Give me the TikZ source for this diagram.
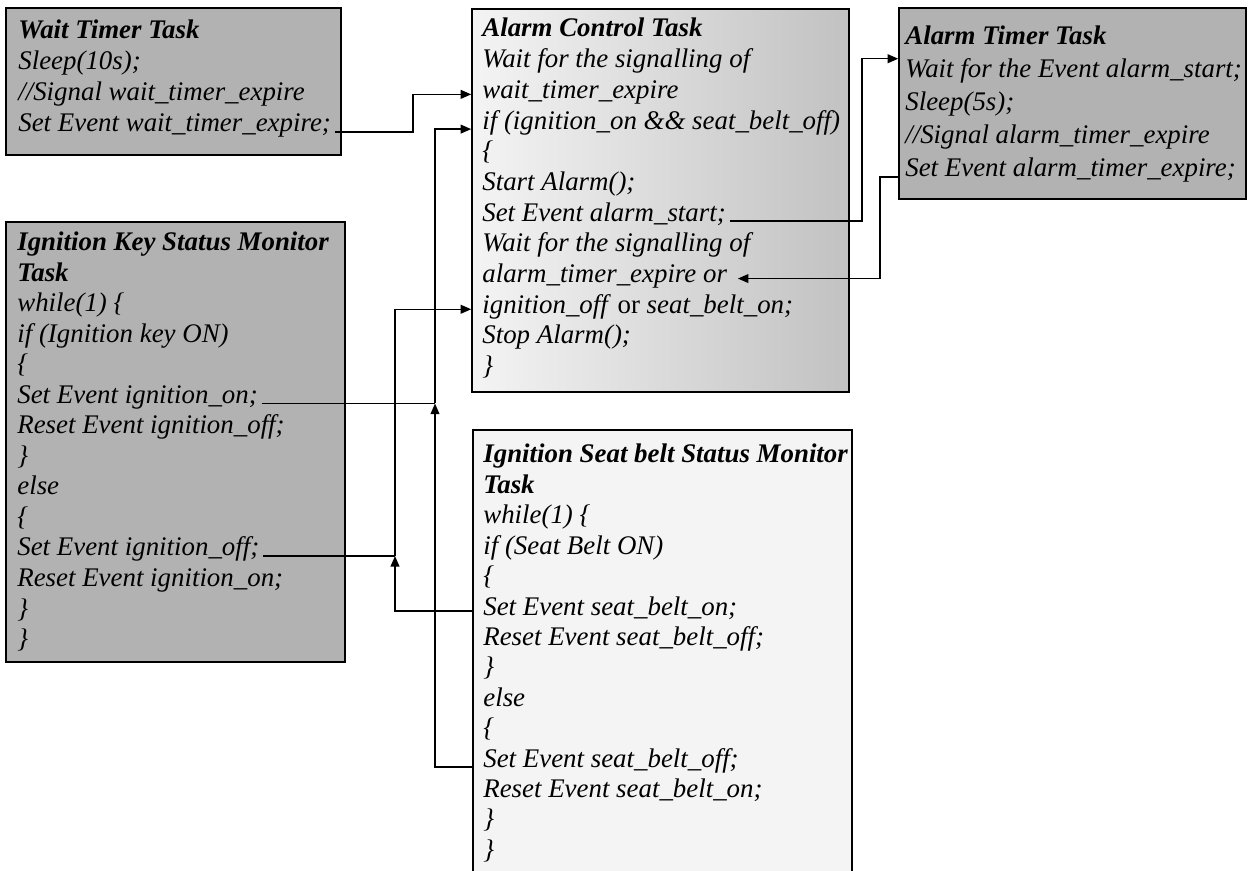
\documentclass[tikz,border=0pt]{standalone}
\usepackage{fontspec}
\setmainfont{Liberation Serif}
\usetikzlibrary{positioning,arrows.meta,fit,calc}
\definecolor{scangray}{RGB}{178,178,178}
\definecolor{palegray}{RGB}{244,244,244}
\tikzset{
  task box/.style={
    draw,
    line width=0.9pt,
    inner sep=0pt,
    fill=scangray
  },
  code line/.style={
    anchor=base west,
    inner sep=0pt,
    font=\itshape\fontsize{15.3}{17}\selectfont
  },
  link/.style={
    line width=0.8pt
  },
  arrow/.style={
    link,
    -{Triangle[length=6pt,width=5pt]}
  }
}

\begin{document}
\begin{tikzpicture}[x=0.02cm, y=-0.02cm]
  \useasboundingbox (0,0) rectangle (1248,871);
  \clip (0,0) rectangle (1248,871);

  % Task boxes
  \node[task box, fit={(6,8) (341,155)}] (wt) {};
  \node[task box, left color=palegray, right color=scangray!80, fit={(472,9) (849,392)}] (ac) {};
  \node[task box, fit={(899,8) (1246,199)}] (at) {};
  \node[task box, fit={(6,222) (345,662)}] (ik) {};
  \node[task box, fill=palegray, fit={(473,430) (852,900)}] (sb) {};

  % Wait timer
  \foreach \t [count=\i] in {\textbf{Wait Timer Task}, Sleep(10s);, //Signal wait\_timer\_expire, Set Event wait\_timer\_expire;}
    \node[code line] (wt\i) at (18,{39+31*(\i-1)}) {\t};

  % Alarm control
  \foreach \t [count=\i] in {\textbf{Alarm Control Task}, Wait for the signalling of, wait\_timer\_expire, if (ignition\_on \&\& seat\_belt\_off), \{, Start Alarm();, Set Event alarm\_start;, Wait for the signalling of, alarm\_timer\_expire or, ignition\_off \textup{or} seat\_belt\_on;, Stop Alarm();, \}}
    \node[code line] (ac\i) at (482,{37+30.7*(\i-1)}) {\t};

  % Alarm timer
  \foreach \t [count=\i] in {\textbf{Alarm Timer Task}, Wait for the Event alarm\_start;, Sleep(5s);, //Signal alarm\_timer\_expire, Set Event alarm\_timer\_expire;}
    \node[code line] (at\i) at (905,{45+33*(\i-1)}) {\t};

  % Ignition key monitor
  \foreach \t [count=\i] in {\textbf{Ignition Key Status Monitor}, \textbf{Task}, while(1) \{, if (Ignition key ON), \{, Set Event ignition\_on;, Reset Event ignition\_off;, \}, else, \{, Set Event ignition\_off;, Reset Event ignition\_on;, \}, \}}
    \node[code line] (ik\i) at (17,{251+30.5*(\i-1)}) {\t};

  % Seat belt monitor
  \foreach \t [count=\i] in {\textbf{Ignition Seat belt Status Monitor}, \textbf{Task}, while(1) \{, if (Seat Belt ON), \{, Set Event seat\_belt\_on;, Reset Event seat\_belt\_off;, \}, else, \{, Set Event seat\_belt\_off;, Reset Event seat\_belt\_on;, \}, \}}
    \node[code line] (sb\i) at (483,{463+30.4*(\i-1)}) {\t};

  % Bus positions
  \coordinate (busA) at (413,0);
  \coordinate (busB) at (435,0);
  \coordinate (busC) at (395,0);
  \coordinate (busD) at (862,0);
  \coordinate (busE) at (880,0);

  % wait_timer_expire
  \draw[arrow] ([xshift=2pt]wt4.base east) -| (busA |- ac3.mid) -- (ac.west |- ac3.mid);

  % ignition_on / seat_belt_off
  \draw[arrow] (sb.west |- sb11.base) -| (busB |- ik6.base);
  \draw[link] ([xshift=2pt]ik6.base east) -- (busB |- ik6.base);
  \draw[arrow] (busB |- ik6.base) |- (ac.west |- ac4.base);

  % ignition_off / seat_belt_on
  \draw[arrow] (sb.west |- sb6.mid) -| (busC |- ik11.base);
  \draw[link] ([xshift=2pt]ik11.base east) -- (busC |- ik11.base);
  \draw[arrow] (busC |- ik11.base) |- (ac.west |- ac10.mid);

  % alarm_start
  \draw[arrow] ([xshift=2pt]ac7.base east) -| (busD |- at2.north) -- (at.west |- at2.north);

  % alarm_timer_expire
  \draw[arrow] (at.west |- at5.base) -| (busE |- ac9.mid) -- ([xshift=6pt]ac9.mid east);
\end{tikzpicture}
\end{document}
